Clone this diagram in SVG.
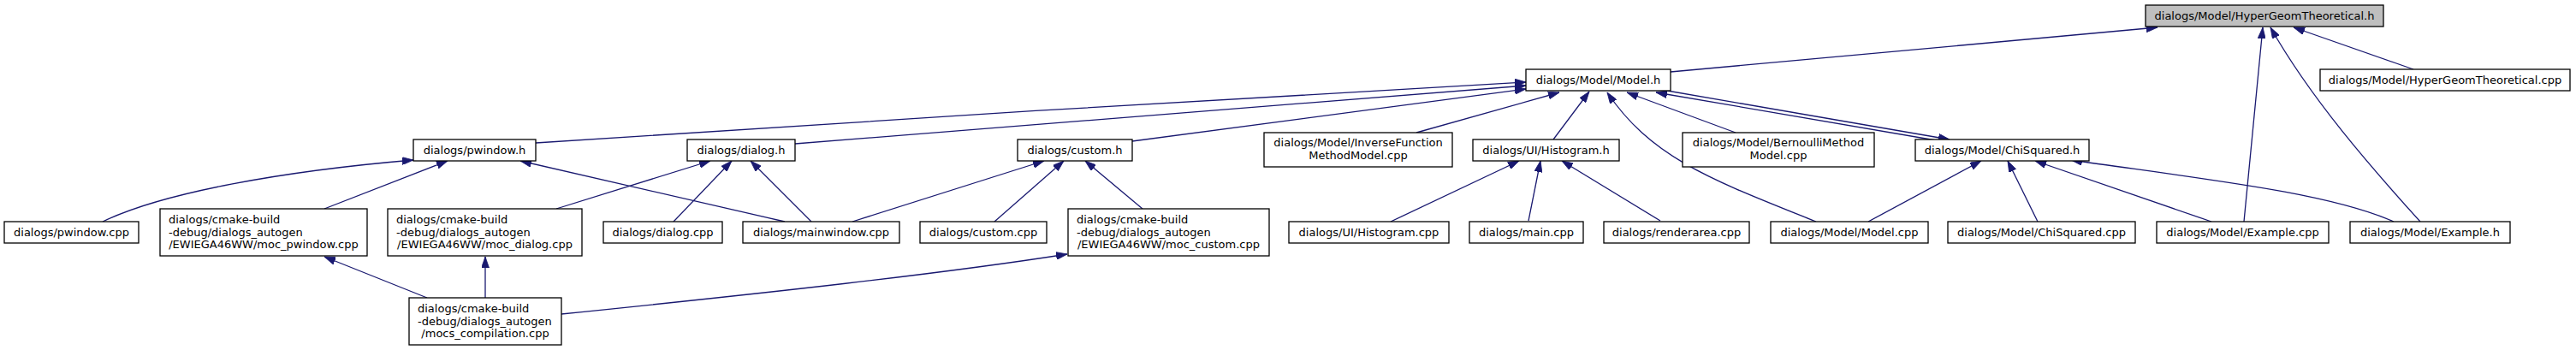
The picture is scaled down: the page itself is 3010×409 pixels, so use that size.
<svg xmlns="http://www.w3.org/2000/svg" width="3010" height="409" viewBox="0 0 3010 409">
<style>
.node rect{fill:#fff;stroke:#000;stroke-width:1.3}
.root rect{fill:#bfbfbf}
text{font-family:"DejaVu Sans","Liberation Sans",sans-serif;font-size:13px;fill:#000}
.c{text-anchor:middle}
.e path{fill:none;stroke:#191970;stroke-width:1.3;marker-end:url(#ah)}
</style>
<defs>
<marker id="ah" markerUnits="userSpaceOnUse" markerWidth="13" markerHeight="9" refX="13" refY="4.5" orient="auto" viewBox="0 0 13 9">
<path d="M0,0 L13,4.5 L0,9 z" fill="#191970" stroke="#191970" stroke-width="0.8"/>
</marker>
</defs>
<rect width="3010" height="409" fill="#fff"/>
<g id="edges" class="e">
<path d="M1952,84 L2521,32"/>
<path d="M2820,81 L2680,32"/>
<path d="M2622,259 L2644,32"/>
<path d="M2828,259 C2770,195 2700,115 2653,32"/>
<path d="M626,167 C900,149 1500,110 1783,96"/>
<path d="M929,168 L1783,100"/>
<path d="M1323,165 L1783,104"/>
<path d="M1655,155 L1822,108"/>
<path d="M1815,163 L1857,107"/>
<path d="M2122,259 C2000,210 1930,185 1878,108"/>
<path d="M2028,155 L1901,108"/>
<path d="M2262,164 L1935,108"/>
<path d="M1948,106 L2278,163"/>
<path d="M120,259 C190,225 330,200 483,187"/>
<path d="M379,244 L523,188"/>
<path d="M917,259 L608,188"/>
<path d="M650,244 L830,188"/>
<path d="M787,259 L855,188"/>
<path d="M948,259 L877,188"/>
<path d="M996,259 L1220,188"/>
<path d="M1162,259 L1243,188"/>
<path d="M1335,244 L1268,188"/>
<path d="M499,348 L379,300"/>
<path d="M567,348 L567,300"/>
<path d="M656,367 C900,342 1100,320 1247,297"/>
<path d="M1625,259 L1775,188"/>
<path d="M1786,258 L1800,188"/>
<path d="M1940,258 L1825,188"/>
<path d="M2183,259 L2315,188"/>
<path d="M2381,259 L2346,188"/>
<path d="M2584,259 L2378,188"/>
<path d="M2797,259 C2720,225 2580,210 2420,187"/>
</g>
<g id="n_hgt_h" class="node root"><rect x="2507" y="6" width="278" height="25"/><text class="c" x="2646" y="23">dialogs/Model/HyperGeomTheoretical.h</text></g>
<g id="n_model_h" class="node"><rect x="1783" y="81" width="169" height="25"/><text class="c" x="1867.5" y="98">dialogs/Model/Model.h</text></g>
<g id="n_hgt_cpp" class="node"><rect x="2711" y="81" width="292" height="25"/><text class="c" x="2857" y="98">dialogs/Model/HyperGeomTheoretical.cpp</text></g>
<g id="n_pwindow_h" class="node"><rect x="483" y="163" width="143" height="25"/><text class="c" x="554.5" y="180">dialogs/pwindow.h</text></g>
<g id="n_dialog_h" class="node"><rect x="803" y="163" width="126" height="25"/><text class="c" x="866" y="180">dialogs/dialog.h</text></g>
<g id="n_custom_h" class="node"><rect x="1189" y="163" width="134" height="25"/><text class="c" x="1256" y="180">dialogs/custom.h</text></g>
<g id="n_invfunc" class="node"><rect x="1477" y="155" width="220" height="40"/><text class="c" x="1587" y="171">dialogs/Model/InverseFunction</text><text class="c" x="1587" y="186">MethodModel.cpp</text></g>
<g id="n_hist_h" class="node"><rect x="1721" y="163" width="171" height="25"/><text class="c" x="1806.5" y="180">dialogs/UI/Histogram.h</text></g>
<g id="n_bern" class="node"><rect x="1966" y="155" width="224" height="40"/><text class="c" x="2078" y="171">dialogs/Model/BernoulliMethod</text><text class="c" x="2078" y="186">Model.cpp</text></g>
<g id="n_chisq_h" class="node"><rect x="2238" y="163" width="203" height="25"/><text class="c" x="2339.5" y="180">dialogs/Model/ChiSquared.h</text></g>
<g id="n_pwindow_cpp" class="node"><rect x="5" y="259" width="157" height="25"/><text class="c" x="83.5" y="276">dialogs/pwindow.cpp</text></g>
<g id="n_moc_pwindow" class="node"><rect x="187" y="244" width="242" height="55"/><text x="197" y="261">dialogs/cmake-build</text><text x="197" y="275.5">-debug/dialogs_autogen</text><text class="c" x="308" y="290">/EWIEGA46WW/moc_pwindow.cpp</text></g>
<g id="n_moc_dialog" class="node"><rect x="453" y="244" width="227" height="55"/><text x="463" y="261">dialogs/cmake-build</text><text x="463" y="275.5">-debug/dialogs_autogen</text><text class="c" x="566.5" y="290">/EWIEGA46WW/moc_dialog.cpp</text></g>
<g id="n_dialog_cpp" class="node"><rect x="705" y="259" width="139" height="25"/><text class="c" x="774.5" y="276">dialogs/dialog.cpp</text></g>
<g id="n_mainwindow_cpp" class="node"><rect x="868" y="259" width="183" height="25"/><text class="c" x="959.5" y="276">dialogs/mainwindow.cpp</text></g>
<g id="n_custom_cpp" class="node"><rect x="1075" y="259" width="148" height="25"/><text class="c" x="1149" y="276">dialogs/custom.cpp</text></g>
<g id="n_moc_custom" class="node"><rect x="1248" y="244" width="235" height="55"/><text x="1258" y="261">dialogs/cmake-build</text><text x="1258" y="275.5">-debug/dialogs_autogen</text><text class="c" x="1365.5" y="290">/EWIEGA46WW/moc_custom.cpp</text></g>
<g id="n_hist_cpp" class="node"><rect x="1506" y="259" width="187" height="25"/><text class="c" x="1599.5" y="276">dialogs/UI/Histogram.cpp</text></g>
<g id="n_main_cpp" class="node"><rect x="1717" y="259" width="133" height="25"/><text class="c" x="1783.5" y="276">dialogs/main.cpp</text></g>
<g id="n_renderarea_cpp" class="node"><rect x="1874" y="259" width="170" height="25"/><text class="c" x="1959" y="276">dialogs/renderarea.cpp</text></g>
<g id="n_model_cpp" class="node"><rect x="2069" y="259" width="184" height="25"/><text class="c" x="2161" y="276">dialogs/Model/Model.cpp</text></g>
<g id="n_chisq_cpp" class="node"><rect x="2276" y="259" width="219" height="25"/><text class="c" x="2385.5" y="276">dialogs/Model/ChiSquared.cpp</text></g>
<g id="n_example_cpp" class="node"><rect x="2520" y="259" width="201" height="25"/><text class="c" x="2620.5" y="276">dialogs/Model/Example.cpp</text></g>
<g id="n_example_h" class="node"><rect x="2746" y="259" width="187" height="25"/><text class="c" x="2839.5" y="276">dialogs/Model/Example.h</text></g>
<g id="n_mocs_compilation" class="node"><rect x="478" y="348" width="178" height="55"/><text x="488" y="365">dialogs/cmake-build</text><text x="488" y="379.5">-debug/dialogs_autogen</text><text class="c" x="567" y="394">/mocs_compilation.cpp</text></g>
</svg>
